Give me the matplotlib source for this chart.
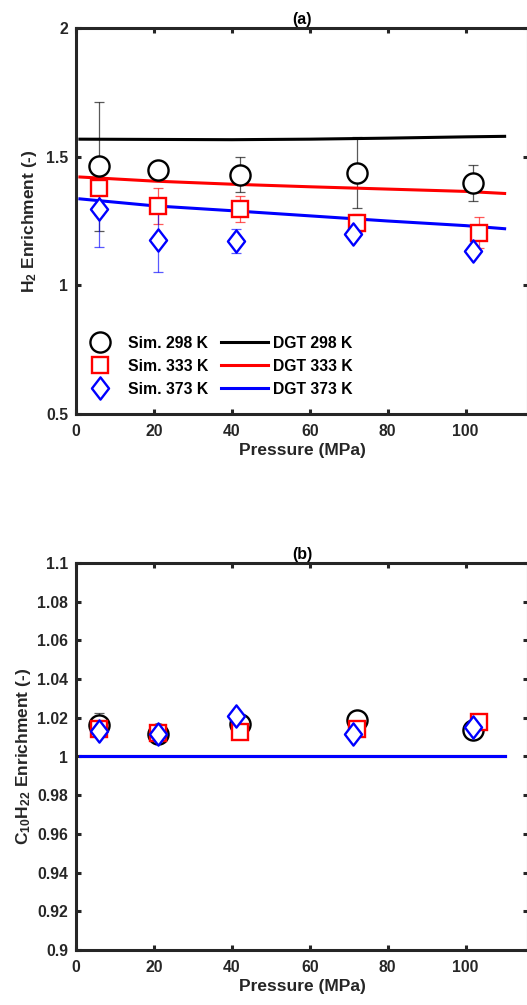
import numpy as np
import matplotlib
matplotlib.use("Agg")
import matplotlib.pyplot as plt
from matplotlib.path import Path
from matplotlib.lines import Line2D
from matplotlib.ticker import FuncFormatter

plt.rcParams['font.family'] = ['Liberation Sans', 'DejaVu Sans']
plt.rcParams['font.weight'] = 'bold'
plt.rcParams['axes.labelweight'] = 'bold'
plt.rcParams['axes.titleweight'] = 'bold'
plt.rcParams['mathtext.fontset'] = 'custom'
plt.rcParams['mathtext.rm'] = 'Liberation Sans:bold'
plt.rcParams['mathtext.bf'] = 'Liberation Sans:bold'
plt.rcParams['mathtext.default'] = 'rm'

# simulation pressures (MPa) per temperature
p_298 = [6, 21, 42, 72, 102]
p_333 = [6, 21, 42, 72, 103.5]
p_373 = [6, 21, 41, 71, 102]

# (a) H2 enrichment
h2_298 = [1.462, 1.447, 1.430, 1.438, 1.396]
h2_298_err = [0.25, 0.0, 0.068, 0.137, 0.07]
h2_333 = [1.379, 1.307, 1.297, 1.243, 1.204]
h2_333_err = [0.107, 0.07, 0.052, 0.035, 0.06]
h2_373 = [1.295, 1.176, 1.172, 1.200, 1.133]
h2_373_err = [0.147, 0.126, 0.045, 0.02, 0.02]

# (b) C10H22 enrichment
c10_298 = [1.0164, 1.0116, 1.0168, 1.0190, 1.0139]
c10_298_err = [0.006, 0.0, 0.0, 0.0, 0.0]
c10_333 = [1.0142, 1.0121, 1.0127, 1.0142, 1.0178]
c10_333_err = [0.0, 0.0, 0.0, 0.0, 0.0]
c10_373 = [1.0133, 1.0118, 1.0207, 1.0116, 1.0150]
c10_373_err = [0.0, 0.0, 0.0, 0.0, 0.0]

# DGT model curves
p_dgt = [1, 20, 40, 60, 80, 100, 110]
dgt_h2_298 = [1.568, 1.567, 1.566, 1.568, 1.572, 1.577, 1.579]
dgt_h2_333 = [1.421, 1.405, 1.393, 1.383, 1.374, 1.365, 1.357]
dgt_h2_373 = [1.336, 1.309, 1.290, 1.270, 1.250, 1.232, 1.220]
dgt_c10_298 = [1.0, 1.0, 1.0, 1.0, 1.0, 1.0, 1.0]
dgt_c10_333 = [1.0, 1.0, 1.0, 1.0, 1.0, 1.0, 1.0]
dgt_c10_373 = [1.0, 1.0, 1.0, 1.0, 1.0, 1.0, 1.0]

labels_sim = ['Sim. 298 K', 'Sim. 333 K', 'Sim. 373 K']
labels_dgt = ['DGT 298 K', 'DGT 333 K', 'DGT 373 K']
colors = ['black', 'red', 'blue']

diamond = Path([(0, 1), (0.77, 0), (0, -1), (-0.77, 0), (0, 1)],
               [Path.MOVETO, Path.LINETO, Path.LINETO, Path.LINETO, Path.CLOSEPOLY])
markers = ['o', 's', diamond]
msizes = [14.5, 11, 16]
spine_col = '#262626'


def style_axes(ax, ylim, yticks, title):
  ax.set_xlim(0, 116)
  ax.set_ylim(*ylim)
  ax.set_xticks([0, 20, 40, 60, 80, 100])
  ax.set_yticks(yticks)
  ax.yaxis.set_major_formatter(FuncFormatter(lambda v, p: "%g" % round(v, 4)))
  for s in ax.spines.values():
    s.set_linewidth(2.2)
    s.set_color(spine_col)
  ax.tick_params(direction='in', top=True, right=True, length=3.5, width=2.2,
                 color=spine_col, labelcolor=spine_col, labelsize=11.3)
  ax.tick_params(axis='x', pad=7)
  ax.tick_params(axis='y', pad=5.5)
  ax.set_xlabel('Pressure (MPa)', fontsize=12.5, color=spine_col, labelpad=3)
  ax.set_title(title, fontsize=11.5, pad=3)


def draw_panel(ax, sims, errs, dgts):
  pvs = [p_298, p_333, p_373]
  for i in range(3):
    pv = np.array(pvs[i])
    y = np.array(sims[i])
    e = np.array(errs[i])
    keep = e > 0
    ax.errorbar(pv[keep], y[keep], yerr=e[keep], fmt='none', ecolor=colors[i], alpha=0.65,
                elinewidth=0.9, capsize=3.6, capthick=0.9, zorder=2)
  for d, c in zip(dgts, colors):
    ax.plot(p_dgt, d, '-', color=c, linewidth=2.2, zorder=3)
  for i in range(3):
    ax.plot(pvs[i], sims[i], linestyle='none', marker=markers[i], markersize=msizes[i],
            markerfacecolor='white', markeredgecolor=colors[i],
            markeredgewidth=1.7, zorder=4 + i)


fig = plt.figure(figsize=(5.27, 10.05), dpi=100)
ax1 = fig.add_axes([76 / 527, 1 - 414 / 1005, 452 / 527, 386 / 1005])
ax2 = fig.add_axes([76 / 527, 1 - 950 / 1005, 452 / 527, 387 / 1005])

draw_panel(ax1, [h2_298, h2_333, h2_373], [h2_298_err, h2_333_err, h2_373_err],
           [dgt_h2_298, dgt_h2_333, dgt_h2_373])
style_axes(ax1, (0.5, 2.0), [0.5, 1, 1.5, 2], '(a)')
ax1.set_ylabel(r'H$_2$ Enrichment (-)', fontsize=12.5, color=spine_col, labelpad=5)

draw_panel(ax2, [c10_298, c10_333, c10_373], [c10_298_err, c10_333_err, c10_373_err],
           [dgt_c10_298, dgt_c10_333, dgt_c10_373])
style_axes(ax2, (0.9, 1.1), np.arange(0.9, 1.1001, 0.02), '(b)')
ax2.set_ylabel(r'C$_{10}$H$_{22}$ Enrichment (-)', fontsize=12.5, color=spine_col, labelpad=3)

handles = []
for i in range(3):
  handles.append(Line2D([], [], linestyle='none', marker=markers[i], markersize=msizes[i],
                        markerfacecolor='none', markeredgecolor=colors[i],
                        markeredgewidth=1.7, label=labels_sim[i]))
for i in range(3):
  handles.append(Line2D([], [], color=colors[i], linewidth=2.2, label=labels_dgt[i]))
ax1.legend(handles=handles, ncol=2, loc='lower left', bbox_to_anchor=(0.0, 0.045),
           frameon=False, fontsize=11.3, borderpad=0, borderaxespad=0,
           handlelength=3.0, handletextpad=0.33, columnspacing=0.8,
           labelspacing=0.5)

fig.savefig('out.png', dpi=100)
